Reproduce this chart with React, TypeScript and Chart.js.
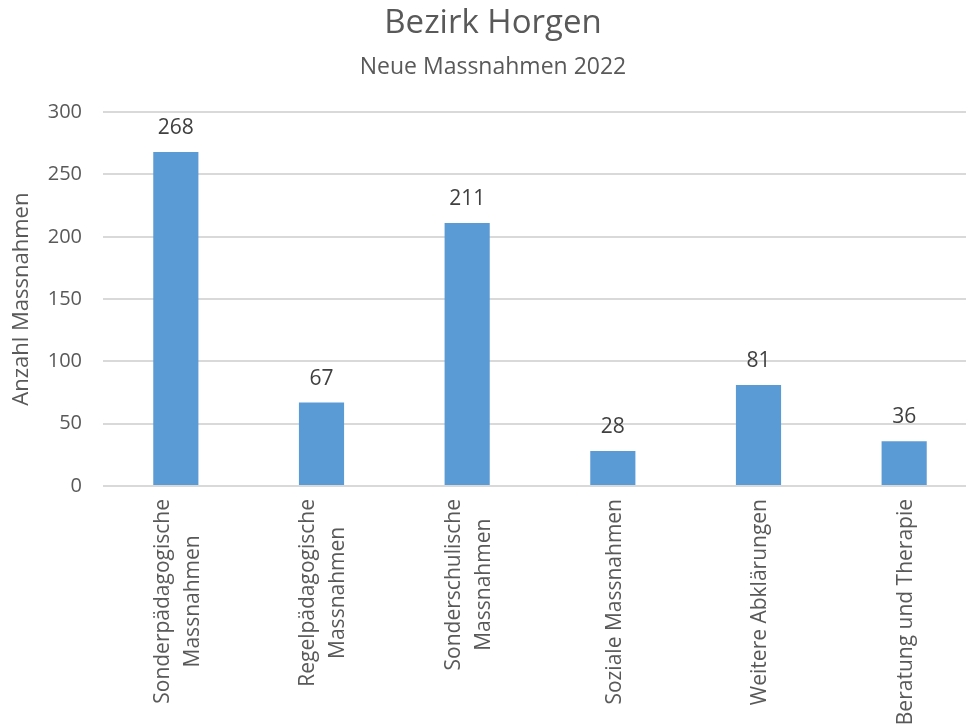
import React, { useEffect, useRef } from "react";
import { Chart, registerables } from "chart.js";

Chart.register(...registerables);

const categories: string[][] = [
  ["Sonderpädagogische", "Massnahmen"],
  ["Regelpädagogische", "Massnahmen"],
  ["Sonderschulische", "Massnahmen"],
  ["Soziale Massnahmen"],
  ["Weitere Abklärungen"],
  ["Beratung und Therapie"],
];
const values: number[] = [268, 67, 211, 28, 81, 36];
const titleText = "Bezirk Horgen";
const subtitleText = "Neue Massnahmen 2022";
const yAxisTitle = "Anzahl Massnahmen";

const FONT = "'Open Sans', sans-serif";

const valueLabels = {
  id: "valueLabels",
  afterDatasetsDraw(chart: any) {
    const ctx = chart.ctx;
    const meta = chart.getDatasetMeta(0);
    ctx.save();
    ctx.font = `21px ${FONT}`;
    ctx.fillStyle = "#404040";
    ctx.textAlign = "center";
    ctx.textBaseline = "middle";
    meta.data.forEach((bar: any, i: number) => {
      ctx.fillText(String(values[i]), bar.x, bar.y - 24);
    });
    ctx.restore();
  },
};

const xLabels = {
  id: "xLabels",
  afterDraw(chart: any) {
    const ctx = chart.ctx;
    const xs = chart.scales.x;
    const top = chart.chartArea.bottom + 13;
    const lineH = 30;
    ctx.save();
    ctx.font = `21px ${FONT}`;
    ctx.fillStyle = "#595959";
    ctx.textBaseline = "middle";
    categories.forEach((lines, i) => {
      const cx = xs.getPixelForValue(i);
      const widths = lines.map((l) => ctx.measureText(l).width);
      const maxW = Math.max(...widths);
      const n = lines.length;
      lines.forEach((line, j) => {
        const x = cx + (j - (n - 1) / 2) * lineH + 2;
        const yCenter = top + maxW / 2;
        ctx.save();
        ctx.translate(x, yCenter);
        ctx.rotate(-Math.PI / 2);
        ctx.textAlign = "center";
        ctx.fillText(line, 0, 0);
        ctx.restore();
      });
    });
    ctx.restore();
  },
};

export default function App() {
  const ref = useRef<HTMLCanvasElement>(null);
  useEffect(() => {
    document.body.style.margin = "0";
    document.body.style.overflow = "hidden";
    const chart = new Chart(ref.current!, {
      type: "bar",
      data: {
        labels: categories.map((c) => c.join(" ")),
        datasets: [
          {
            data: values,
            backgroundColor: "#5B9BD5",
            borderWidth: 0,
            barPercentage: 1,
            categoryPercentage: 0.31,
          },
        ],
      },
      options: {
        animation: false,
        responsive: false,
        layout: { padding: { left: 9, right: 8, top: 0, bottom: 274 } },
        plugins: {
          legend: { display: false },
          tooltip: { enabled: false },
          title: {
            display: true,
            text: titleText,
            color: "#595959",
            font: { family: FONT, size: 33, weight: "normal" },
            padding: { top: 4, bottom: 10 },
          },
          subtitle: {
            display: true,
            text: subtitleText,
            color: "#595959",
            font: { family: FONT, size: 23, weight: "normal" },
            padding: { top: 0, bottom: 31 },
          },
        },
        scales: {
          x: {
            display: false,
          },
          y: {
            min: 0,
            max: 300,
            afterFit(scale: any) {
              scale.width = 94;
            },
            ticks: {
              stepSize: 50,
              color: "#595959",
              font: { family: FONT, size: 20 },
              padding: 21,
            },
            grid: { color: "#d9d9d9", lineWidth: 2, drawTicks: false },
            border: { display: false },
            title: {
              display: true,
              text: yAxisTitle,
              color: "#595959",
              font: { family: FONT, size: 22, weight: "normal" },
              padding: { top: 0, bottom: 0 },
            },
          },
        },
      },
      plugins: [valueLabels, xLabels],
    });
    return () => chart.destroy();
  }, []);
  return (
    <div style={{ position: "absolute", left: 0, top: 0 }}>
      <canvas ref={ref} width={985} height={760} style={{ display: "block" }} />
    </div>
  );
}
